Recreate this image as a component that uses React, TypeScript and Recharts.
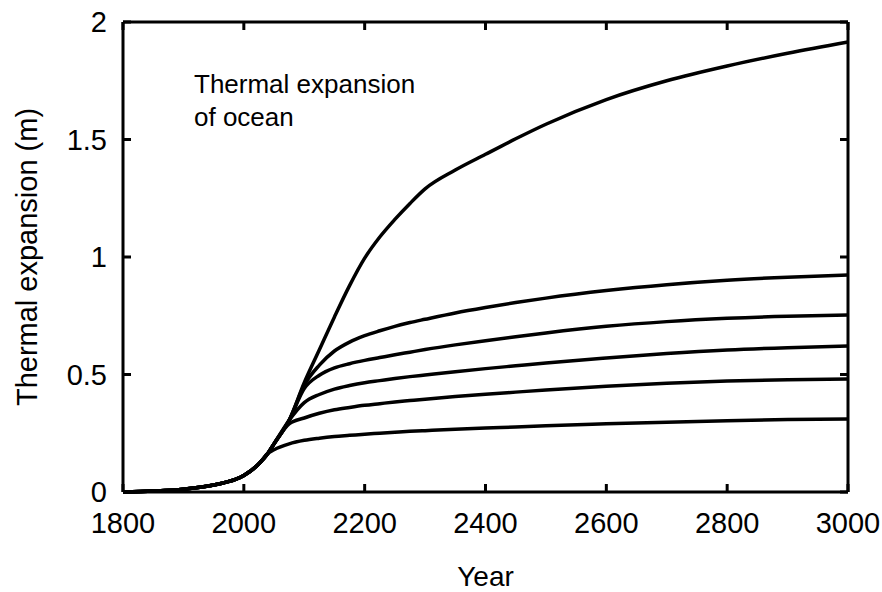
import { LineChart, Line, XAxis, YAxis, ReferenceLine } from "recharts";

// Year grid shared by every scenario curve
const years = [
  1800, 1850, 1900, 1950, 2000, 2025, 2040, 2050, 2075, 2100, 2125, 2150, 2175,
  2200, 2225, 2250, 2275, 2300, 2350, 2400, 2450, 2500, 2600, 2700, 2800, 2900,
  3000,
];

// Thermal expansion (m) per scenario, lowest to highest
const early = [0, 0.004, 0.012, 0.03, 0.07, 0.12, 0.165];

const scenario1 = [
  ...early, 0.18, 0.205, 0.22, 0.229, 0.236, 0.241, 0.246, 0.25, 0.254, 0.258,
  0.261, 0.267, 0.272, 0.277, 0.282, 0.29, 0.297, 0.303, 0.308, 0.311,
];
const scenario2 = [
  ...early, 0.205, 0.29, 0.315, 0.335, 0.35, 0.36, 0.369, 0.376, 0.383, 0.389,
  0.395, 0.406, 0.416, 0.425, 0.434, 0.45, 0.463, 0.472, 0.478, 0.481,
];
const scenario3 = [
  ...early, 0.205, 0.305, 0.38, 0.415, 0.438, 0.453, 0.465, 0.474, 0.483, 0.491,
  0.498, 0.512, 0.525, 0.537, 0.549, 0.57, 0.589, 0.604, 0.614, 0.621,
];
const scenario4 = [
  ...early, 0.205, 0.305, 0.44, 0.497, 0.528, 0.546, 0.56, 0.572, 0.584, 0.595,
  0.606, 0.626, 0.644, 0.661, 0.677, 0.705, 0.725, 0.739, 0.748, 0.753,
];
const scenario5 = [
  ...early, 0.205, 0.305, 0.455, 0.54, 0.6, 0.638, 0.665, 0.686, 0.705, 0.721,
  0.735, 0.762, 0.785, 0.806, 0.825, 0.857, 0.882, 0.901, 0.914, 0.923,
];
const scenario6 = [
  ...early, 0.205, 0.305, 0.465, 0.605, 0.745, 0.878, 0.995, 1.085, 1.16, 1.228,
  1.29, 1.37, 1.437, 1.503, 1.565, 1.67, 1.75, 1.813, 1.867, 1.915,
];

const xTicks = [1800, 2000, 2200, 2400, 2600, 2800, 3000];
const yTicks = [0, 0.5, 1, 1.5, 2];

const series = [scenario1, scenario2, scenario3, scenario4, scenario5, scenario6];

const data = years.map((year, i) => {
  const row: Record<string, number> = { year };
  series.forEach((s, k) => {
    row[`s${k + 1}`] = s[i];
  });
  return row;
});

const FONT = '"Liberation Sans", Arial, sans-serif';
const INK = "#000";
const AXIS_W = 3;
const TICK_FONT = 29;

// chart box and plot frame
const W = 882;
const H = 592;
const LEFT = 123;
const RIGHT = 34;
const TOP = 22;
const BOTTOM = 100;
const X_DOMAIN: [number, number] = [1800, 3000];
const Y_DOMAIN: [number, number] = [0, 2];

// inward tick length, converted to data units so the ticks go through the scales
const TICK_PX = 8;
const tickDx = (TICK_PX * (X_DOMAIN[1] - X_DOMAIN[0])) / (W - LEFT - RIGHT);
const tickDy = (TICK_PX * (Y_DOMAIN[1] - Y_DOMAIN[0])) / (H - TOP - BOTTOM);

const BottomLabel = ({ x, y, payload }: any) => (
  <text x={x} y={y + 41} textAnchor="middle" fill={INK} fontSize={TICK_FONT} fontFamily={FONT}>
    {payload.value}
  </text>
);

const LeftLabel = ({ x, y, payload }: any) => (
  <text x={x - 16} y={y + 10} textAnchor="end" fill={INK} fontSize={TICK_FONT} fontFamily={FONT}>
    {payload.value}
  </text>
);

export default function App() {
  return (
    <div style={{ position: "absolute", left: 0, top: 0, background: "#fff" }}>
      <LineChart
        width={W}
        height={H}
        data={data}
        margin={{ top: TOP, right: RIGHT, bottom: 0, left: 0 }}
        style={{ fontFamily: FONT }}
      >
        <XAxis
          dataKey="year"
          type="number"
          domain={X_DOMAIN}
          ticks={xTicks}
          height={BOTTOM}
          tickSize={0}
          tickMargin={0}
          tickLine={false}
          axisLine={{ stroke: INK, strokeWidth: AXIS_W }}
          tick={<BottomLabel />}
          label={{
            value: "Year",
            position: "insideBottom",
            offset: 6,
            fill: INK,
            fontSize: 28,
            fontFamily: FONT,
          }}
        />
        <YAxis
          type="number"
          domain={Y_DOMAIN}
          ticks={yTicks}
          width={LEFT}
          tickSize={0}
          tickMargin={0}
          tickLine={false}
          axisLine={{ stroke: INK, strokeWidth: AXIS_W }}
          tick={<LeftLabel />}
          label={{
            value: "Thermal expansion (m)",
            angle: -90,
            position: "insideLeft",
            offset: 27,
            fill: INK,
            fontSize: 29,
            fontFamily: FONT,
            style: { textAnchor: "middle" },
          }}
        />

        {/* closing frame on top and right */}
        <ReferenceLine y={Y_DOMAIN[1]} stroke={INK} strokeWidth={AXIS_W} />
        <ReferenceLine x={X_DOMAIN[1]} stroke={INK} strokeWidth={AXIS_W} />

        {/* inward ticks on all four sides */}
        {xTicks.map((t) => (
          <ReferenceLine
            key={`xb-${t}`}
            segment={[{ x: t, y: Y_DOMAIN[0] }, { x: t, y: Y_DOMAIN[0] + tickDy }]}
            stroke={INK}
            strokeWidth={AXIS_W}
            ifOverflow="visible"
          />
        ))}
        {xTicks.map((t) => (
          <ReferenceLine
            key={`xt-${t}`}
            segment={[{ x: t, y: Y_DOMAIN[1] }, { x: t, y: Y_DOMAIN[1] - tickDy }]}
            stroke={INK}
            strokeWidth={AXIS_W}
            ifOverflow="visible"
          />
        ))}
        {yTicks.map((t) => (
          <ReferenceLine
            key={`yl-${t}`}
            segment={[{ x: X_DOMAIN[0], y: t }, { x: X_DOMAIN[0] + tickDx, y: t }]}
            stroke={INK}
            strokeWidth={AXIS_W}
            ifOverflow="visible"
          />
        ))}
        {yTicks.map((t) => (
          <ReferenceLine
            key={`yr-${t}`}
            segment={[{ x: X_DOMAIN[1], y: t }, { x: X_DOMAIN[1] - tickDx, y: t }]}
            stroke={INK}
            strokeWidth={AXIS_W}
            ifOverflow="visible"
          />
        ))}

        {series.map((_, k) => (
          <Line
            key={k}
            dataKey={`s${k + 1}`}
            type="monotone"
            stroke={INK}
            strokeWidth={3.5}
            dot={false}
            isAnimationActive={false}
          />
        ))}
        <text x={194} y={93} fill={INK} fontSize={26} fontFamily={FONT}>
          Thermal expansion
        </text>
        <text x={194} y={126} fill={INK} fontSize={26} fontFamily={FONT}>
          of ocean
        </text>
      </LineChart>
    </div>
  );
}
